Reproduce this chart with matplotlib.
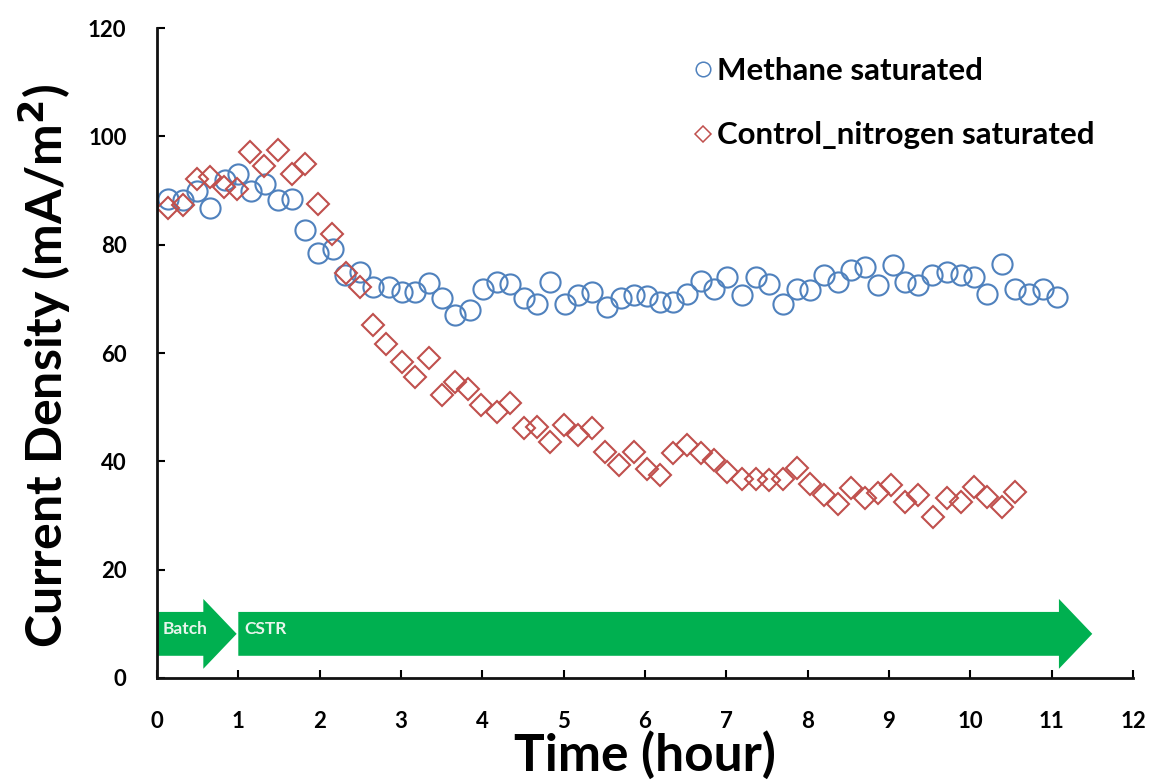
import matplotlib
matplotlib.use("Agg")
import matplotlib.pyplot as plt
from matplotlib.patches import FancyArrow
from matplotlib.lines import Line2D

plt.rcParams['font.family'] = ['Lato', 'DejaVu Sans']

# Methane-saturated run: time (h) and current density (mA/m2)
methane_time = [0.14, 0.32, 0.49, 0.65, 0.84, 1.00, 1.16, 1.33, 1.49, 1.66,
                1.82, 1.98, 2.17, 2.31, 2.50, 2.66, 2.85, 3.01, 3.17, 3.34,
                3.50, 3.67, 3.85, 4.01, 4.18, 4.34, 4.51, 4.67, 4.83, 5.02,
                5.18, 5.35, 5.53, 5.70, 5.86, 6.02, 6.19, 6.35, 6.52, 6.69,
                6.85, 7.01, 7.19, 7.36, 7.52, 7.70, 7.87, 8.03, 8.20, 8.37,
                8.53, 8.71, 8.86, 9.05, 9.20, 9.36, 9.53, 9.71, 9.88, 10.04,
                10.21, 10.39, 10.55, 10.72, 10.89, 11.07]
methane_current = [88.5, 88.2, 90.0, 86.8, 91.9, 93.1, 90.0, 91.3, 88.2, 88.5,
                   82.7, 78.4, 79.3, 74.4, 75.0, 72.2, 72.2, 71.3, 71.3, 73.0,
                   70.2, 67.0, 67.9, 71.9, 73.1, 72.8, 70.1, 69.1, 73.1, 69.1,
                   70.7, 71.3, 68.5, 70.1, 70.7, 70.5, 69.4, 69.4, 71.0, 73.4,
                   71.9, 74.0, 70.7, 74.0, 72.8, 69.1, 71.9, 71.6, 74.4, 73.1,
                   75.3, 75.9, 72.5, 76.2, 73.1, 72.5, 74.4, 75.0, 74.4, 74.0,
                   71.0, 76.5, 71.9, 71.0, 71.9, 70.3]

# Nitrogen-saturated control run
control_time = [0.14, 0.32, 0.49, 0.65, 0.82, 0.99, 1.15, 1.32, 1.49, 1.66,
                1.82, 1.98, 2.15, 2.33, 2.50, 2.66, 2.82, 3.01, 3.17, 3.34,
                3.50, 3.67, 3.83, 3.99, 4.18, 4.34, 4.51, 4.67, 4.83, 5.00,
                5.18, 5.35, 5.51, 5.68, 5.86, 6.02, 6.19, 6.35, 6.52, 6.69,
                6.85, 7.01, 7.19, 7.36, 7.52, 7.70, 7.87, 8.03, 8.20, 8.37,
                8.53, 8.71, 8.86, 9.03, 9.20, 9.36, 9.54, 9.71, 9.88, 10.04,
                10.21, 10.39, 10.55]
control_current = [86.7, 87.3, 92.2, 92.5, 90.6, 90.3, 97.1, 94.6, 97.5, 93.1,
                   95.0, 87.6, 82.0, 74.7, 72.2, 65.1, 61.7, 58.4, 55.6, 59.0,
                   52.2, 54.7, 53.4, 50.4, 49.1, 50.7, 46.1, 46.4, 43.6, 46.7,
                   44.8, 46.1, 41.7, 39.4, 41.8, 38.6, 37.5, 41.5, 43.0, 41.5,
                   40.2, 38.1, 36.8, 36.8, 36.5, 36.8, 38.7, 35.9, 33.8, 32.2,
                   35.0, 33.2, 34.1, 35.6, 32.5, 33.8, 29.8, 33.2, 32.5, 35.3,
                   33.5, 31.6, 34.4]

x_ticks = list(range(0, 13))
y_ticks = list(range(0, 121, 20))

# Operating phases: (label, start hour, end hour)
phases = [("Batch", 0.0, 0.98), ("CSTR", 1.0, 11.5)]

blue = "#4F81BD"
red = "#C0504D"
green = "#00B050"

fig = plt.figure(figsize=(11.55, 7.82), dpi=100)
ax = fig.add_axes([0.1359, 0.133, 0.845, 0.831])

ax.plot(methane_time, methane_current, linestyle="none", marker="o",
        markersize=14.5, markerfacecolor="none", markeredgecolor=blue,
        markeredgewidth=1.5)
ax.plot(control_time, control_current, linestyle="none", marker="D",
        markersize=11, markerfacecolor="none", markeredgecolor=red,
        markeredgewidth=1.5)

# Phase arrows along the bottom of the plot
body_half = 4.05
head_half = 6.45
centre_y = 8.15
head_len = 0.41
for name, start, end in phases:
    arrow = FancyArrow(start, centre_y, end - start, 0, width=2 * body_half,
                       head_width=2 * head_half, head_length=head_len,
                       length_includes_head=True, color=green, lw=0,
                       zorder=1)
    ax.add_patch(arrow)
    ax.text(start + 0.07, centre_y + 0.9, name, color="#E8F5EC", fontsize=12.5,
            fontweight="bold", va="center", ha="left", zorder=2)

ax.set_xlim(0, 12)
ax.set_ylim(0, 120)
ax.set_xticks(x_ticks)
ax.set_yticks(y_ticks)
ax.tick_params(axis="both", direction="in", length=6, width=1.5,
               labelsize=16)
ax.tick_params(axis="x", pad=24)
ax.tick_params(axis="y", pad=22)
for lab in ax.get_xticklabels() + ax.get_yticklabels():
    lab.set_fontweight("bold")

for side in ("top", "right"):
    ax.spines[side].set_visible(False)
for side in ("left", "bottom"):
    ax.spines[side].set_linewidth(2)
    ax.spines[side].set_color("#111111")

ax.set_xlabel("Time (hour)", fontsize=37, fontweight="bold")
ax.set_ylabel("Current Density (mA/m$^\\mathbf{2}$)", fontsize=36,
              fontweight="bold")
ax.xaxis.set_label_coords(0.5, -0.082)
ax.yaxis.set_label_coords(-0.086, 0.48)

handles = [
    Line2D([], [], linestyle="none", marker="o", markersize=10.5,
           markerfacecolor="none", markeredgecolor=blue, markeredgewidth=1.1),
    Line2D([], [], linestyle="none", marker="D", markersize=8,
           markerfacecolor="none", markeredgecolor=red, markeredgewidth=1.1),
]
leg = ax.legend(handles, ["Methane saturated", "Control_nitrogen saturated"],
                loc="upper left", bbox_to_anchor=(0.518, 0.999), frameon=False,
                handlelength=0.8, handletextpad=0.05, labelspacing=1.17,
                prop={"size": 22.5, "weight": "bold"})

fig.savefig("out.png", dpi=100)
